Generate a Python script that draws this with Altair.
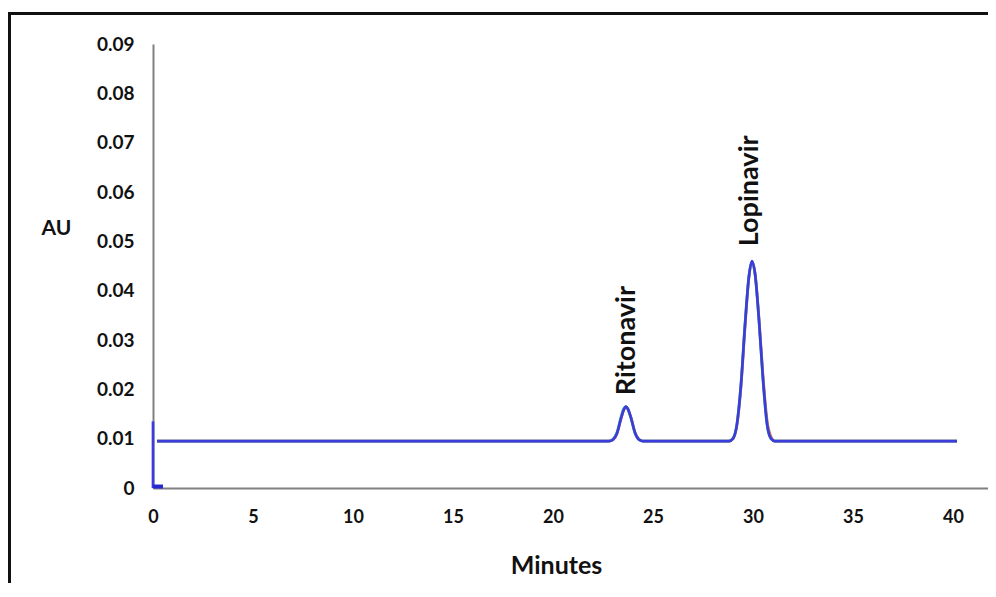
import altair as alt
import pandas as pd

# Retention time (minutes) sample points
time = [0.2, 5, 10, 15, 20, 22.8, 23.0, 23.2, 23.4, 23.55, 23.65, 23.75, 23.9, 24.1, 24.3, 24.5,
        28.8, 29.0, 29.2, 29.4, 29.6, 29.8, 29.95, 30.1, 30.3, 30.5, 30.7, 30.9, 31.1, 35, 40.2]

# Overlaid traces (AU)
trace_red = [0.0095, 0.0095, 0.0095, 0.0095, 0.0095, 0.0095, 0.0098, 0.0110, 0.0140, 0.0159, 0.0164, 0.0160, 0.0143, 0.0113, 0.0099, 0.0095,
             0.0095, 0.0100, 0.0128, 0.0205, 0.0325, 0.0428, 0.0458, 0.0436, 0.0344, 0.0228, 0.0138, 0.0104, 0.0095, 0.0095, 0.0095]
trace_green = [0.0095, 0.0095, 0.0095, 0.0095, 0.0095, 0.0095, 0.0099, 0.0113, 0.0144, 0.0162, 0.0165, 0.0159, 0.0141, 0.0111, 0.0098, 0.0095,
               0.0095, 0.0101, 0.0131, 0.0212, 0.0333, 0.0431, 0.0459, 0.0433, 0.0338, 0.0219, 0.0130, 0.0100, 0.0095, 0.0095, 0.0095]
trace_blue = [0.0095, 0.0095, 0.0095, 0.0095, 0.0095, 0.0095, 0.0098, 0.0111, 0.0141, 0.0160, 0.0165, 0.0160, 0.0142, 0.0112, 0.0098, 0.0095,
              0.0095, 0.0100, 0.0130, 0.0210, 0.0330, 0.0430, 0.0460, 0.0435, 0.0340, 0.0220, 0.0130, 0.0100, 0.0095, 0.0095, 0.0095]

# Injection spike and start artefact
spike_time = [0, 0]
spike_value = [0.0, 0.0135]
blob_time = [0, 0.5]
blob_value = [0.0003, 0.0003]

# Peak labels
peak_names = ["Ritonavir", "Lopinavir"]
peak_time = [23.7, 29.85]
peak_label_y = [0.0188, 0.0490]

x_ticks = [0, 5, 10, 15, 20, 25, 30, 35, 40]
y_ticks = [0, 0.01, 0.02, 0.03, 0.04, 0.05, 0.06, 0.07, 0.08, 0.09]

colors = {"red": "#e2643c", "green": "#3cc8a0", "blue": "#3c3cdc"}

rows = []
for name, vals in [("red", trace_red), ("green", trace_green), ("blue", trace_blue)]:
    for t, v in zip(time, vals):
        rows.append({"t": t, "au": v, "trace": name, "seg": name + "_main"})
for t, v in zip(spike_time, spike_value):
    rows.append({"t": t, "au": v, "trace": "blue", "seg": "spike"})
df = pd.DataFrame(rows)
order_map = {"red": 0, "green": 1, "blue": 2}
df["ord"] = df["trace"].map(order_map)

blob_df = pd.DataFrame({"t": blob_time, "au": blob_value})
label_df = pd.DataFrame({"name": peak_names, "t": peak_time, "au": peak_label_y})
frame_df = pd.DataFrame({"k": [1]})

FONT = "Lato"

x_scale = alt.Scale(domain=[0, 41.75], nice=False, zero=False)
y_scale = alt.Scale(domain=[0, 0.09], nice=False)

x_axis = alt.Axis(values=x_ticks, ticks=False, tickSize=0, grid=False, domainColor="#808080", domainWidth=2,
                  labelFont=FONT, labelFontSize=18, labelFontWeight="bold", labelColor="#111111",
                  labelPadding=20, labelFlush=False,
                  title="Minutes", titleFont=FONT, titleFontSize=25, titleFontWeight="bold", titleColor="#111111",
                  titleX=403, titleY=77, titleAlign="center", titleBaseline="middle", titleAnchor="start")
y_axis = alt.Axis(values=y_ticks, format=".2~f", ticks=False, tickSize=0, grid=False, domainColor="#808080", domainWidth=2,
                  labelFont=FONT, labelFontSize=19, labelFontWeight="bold", labelColor="#111111",
                  labelPadding=19, labelFlush=False,
                  title="AU", titleFont=FONT, titleFontSize=21, titleFontWeight="bold", titleColor="#111111",
                  titleAngle=0, titleX=-97, titleY=184, titleAlign="center", titleBaseline="middle", titleAnchor="start")

lines = alt.Chart(df).mark_line(strokeWidth=2.7, interpolate="monotone").encode(
    x=alt.X("t:Q", scale=x_scale, axis=x_axis),
    y=alt.Y("au:Q", scale=y_scale, axis=y_axis),
    color=alt.Color("trace:N", scale=alt.Scale(domain=list(colors.keys()), range=list(colors.values())), legend=None),
    detail="seg:N",
    order=alt.Order("ord:Q"),
)

blob = alt.Chart(blob_df).mark_line(strokeWidth=4, color="#2828d0").encode(
    x=alt.X("t:Q", scale=x_scale),
    y=alt.Y("au:Q", scale=y_scale),
)

labels = alt.Chart(label_df).mark_text(angle=270, align="left", baseline="middle", font=FONT,
                                       fontSize=27, fontWeight="bold", color="#111111").encode(
    x=alt.X("t:Q", scale=x_scale),
    y=alt.Y("au:Q", scale=y_scale),
    text="name:N",
)

frame = alt.Chart(frame_df).mark_rect(fillOpacity=0, stroke="#111111", strokeWidth=3).encode(
    x=alt.value(-143.5), x2=alt.value(2000), y=alt.value(-30.5), y2=alt.value(2000),
)

chart = alt.layer(frame, lines, blob, labels).properties(
    width=835, height=444,
    autosize=alt.AutoSizeParams(type="none"),
    padding={"left": 145, "top": 36, "right": 0, "bottom": 95},
).configure(background="white").configure_view(stroke=None, strokeWidth=0)

chart.save("out.html", embed_options={"renderer": "svg", "actions": False})
